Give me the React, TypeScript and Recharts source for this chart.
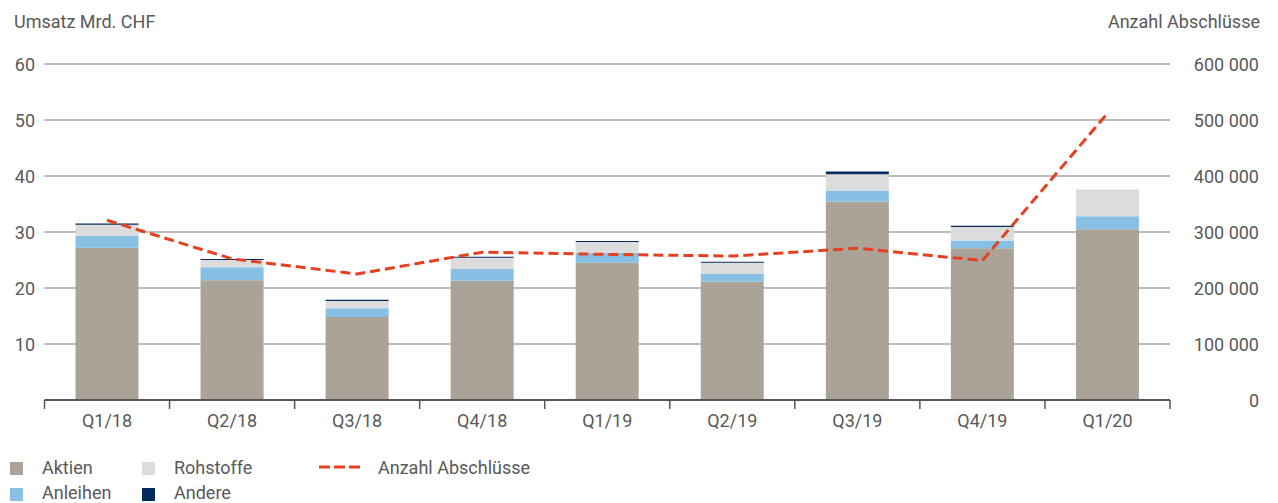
import { ComposedChart, Bar, Line, XAxis, YAxis, CartesianGrid } from 'recharts';

const quarters = ['Q1/18', 'Q2/18', 'Q3/18', 'Q4/18', 'Q1/19', 'Q2/19', 'Q3/19', 'Q4/19', 'Q1/20'];
const aktien = [27.2, 21.4, 14.8, 21.3, 24.5, 21.1, 35.4, 27.1, 30.5];
const anleihen = [2.1, 2.3, 1.6, 2.1, 1.8, 1.4, 2.0, 1.4, 2.3];
const rohstoffe = [2.0, 1.3, 1.3, 2.0, 1.9, 2.0, 2.9, 2.4, 4.8];
const andere = [0.2, 0.2, 0.2, 0.2, 0.2, 0.2, 0.5, 0.2, 0];
const abschluesse = [321000, 252000, 225000, 264000, 260000, 257000, 271000, 249000, 512000];

const leftTicks = [0, 10, 20, 30, 40, 50, 60];
const rightTicks = [0, 100000, 200000, 300000, 400000, 500000, 600000];

const data = quarters.map((q, i) => ({
  q,
  aktien: aktien[i],
  anleihen: anleihen[i],
  rohstoffe: rohstoffe[i],
  andere: andere[i],
  abschluesse: abschluesse[i],
}));

const FONT = 'Roboto, sans-serif';
const FS = 18;
const TXT = '#595959';
const W = 1278;
const H = 503;
const PLOT_LEFT = 44.5;
const PLOT_RIGHT = 1170;
const STEP = (PLOT_RIGHT - PLOT_LEFT) / quarters.length;

const fmt = (v: number) => String(v).replace(/\B(?=(\d{3})+(?!\d))/g, ' ');

const LeftTick = ({ y, payload }: any) =>
  payload.value === 0 ? null : (
    <text x={35} y={y} textAnchor="end" dominantBaseline="central" fill={TXT} fontSize={FS} fontFamily={FONT}>
      {payload.value}
    </text>
  );

const RightTick = ({ y, payload }: any) => (
  <text x={1259} y={y} textAnchor="end" dominantBaseline="central" fill={TXT} fontSize={FS} fontFamily={FONT}>
    {fmt(payload.value)}
  </text>
);

const XTick = ({ x, payload, index }: any) => {
  const i = payload.index ?? index;
  return (
    <g>
      <line x1={x - STEP / 2} x2={x - STEP / 2} y1={400} y2={409} stroke="#555" strokeWidth={1.5} />
      {i === quarters.length - 1 && (
        <line x1={x + STEP / 2} x2={x + STEP / 2} y1={400} y2={409} stroke="#555" strokeWidth={1.5} />
      )}
      <text x={x} y={420} textAnchor="middle" dominantBaseline="central" fill={TXT} fontSize={FS} fontFamily={FONT}>
        {payload.value}
      </text>
    </g>
  );
};

const Swatch = ({ x, y, color }: { x: number; y: number; color: string }) => (
  <div style={{ position: 'absolute', left: x, top: y, width: 13, height: 13, background: color }} />
);

const Label = ({ x, y, children, right }: any) => (
  <div
    style={{
      position: 'absolute',
      left: right ? undefined : x,
      right: right ? W - x : undefined,
      top: y,
      fontFamily: FONT,
      fontSize: FS,
      color: TXT,
      lineHeight: '18px',
      whiteSpace: 'nowrap',
    }}
  >
    {children}
  </div>
);

export default function App() {
  return (
    <div style={{ position: 'absolute', left: 0, top: 0, width: W, height: H, background: '#fff', overflow: 'hidden' }}>
      <Label x={14} y={13}>Umsatz Mrd. CHF</Label>
      <Label x={1260} y={13} right>Anzahl Abschlüsse</Label>
      <ComposedChart
        width={W}
        height={H}
        data={data}
        margin={{ top: 64, right: 0, left: 0, bottom: 73 }}
        barCategoryGap={0}
      >
        <CartesianGrid yAxisId="left" vertical={false} stroke="#a6a6a6" strokeWidth={1.5} />
        <XAxis
          dataKey="q"
          height={30}
          axisLine={{ stroke: '#555', strokeWidth: 2 }}
          tickLine={false}
          tick={<XTick />}
          interval={0}
        />
        <YAxis
          yAxisId="left"
          width={PLOT_LEFT}
          domain={[0, 60]}
          ticks={leftTicks}
          axisLine={false}
          tickLine={false}
          tick={<LeftTick />}
        />
        <YAxis
          yAxisId="right"
          orientation="right"
          width={W - PLOT_RIGHT}
          domain={[0, 600000]}
          ticks={rightTicks}
          axisLine={false}
          tickLine={false}
          tick={<RightTick />}
        />
        <Bar yAxisId="left" dataKey="aktien" stackId="a" fill="#aba398" barSize={63} isAnimationActive={false} />
        <Bar yAxisId="left" dataKey="anleihen" stackId="a" fill="#87c0e4" barSize={63} isAnimationActive={false} />
        <Bar yAxisId="left" dataKey="rohstoffe" stackId="a" fill="#dcdcdc" barSize={63} isAnimationActive={false} />
        <Bar yAxisId="left" dataKey="andere" stackId="a" fill="#002b5c" barSize={63} isAnimationActive={false} />
        <Line
          yAxisId="right"
          dataKey="abschluesse"
          type="linear"
          stroke="#e3411f"
          strokeWidth={3}
          strokeDasharray="10 5"
          dot={false}
          activeDot={false}
          isAnimationActive={false}
        />
      </ComposedChart>

      <Swatch x={10} y={462} color="#aba398" />
      <Label x={42} y={459}>Aktien</Label>
      <Swatch x={142} y={462} color="#dcdcdc" />
      <Label x={174} y={459}>Rohstoffe</Label>
      <svg style={{ position: 'absolute', left: 318, top: 462 }} width={44} height={10}>
        <line x1={1} x2={42} y1={5} y2={5} stroke="#e3411f" strokeWidth={3} strokeDasharray="11 4" />
      </svg>
      <Label x={378} y={459}>Anzahl Abschlüsse</Label>
      <Swatch x={10} y={488} color="#87c0e4" />
      <Label x={42} y={484}>Anleihen</Label>
      <Swatch x={142} y={488} color="#002b5c" />
      <Label x={174} y={484}>Andere</Label>
    </div>
  );
}
